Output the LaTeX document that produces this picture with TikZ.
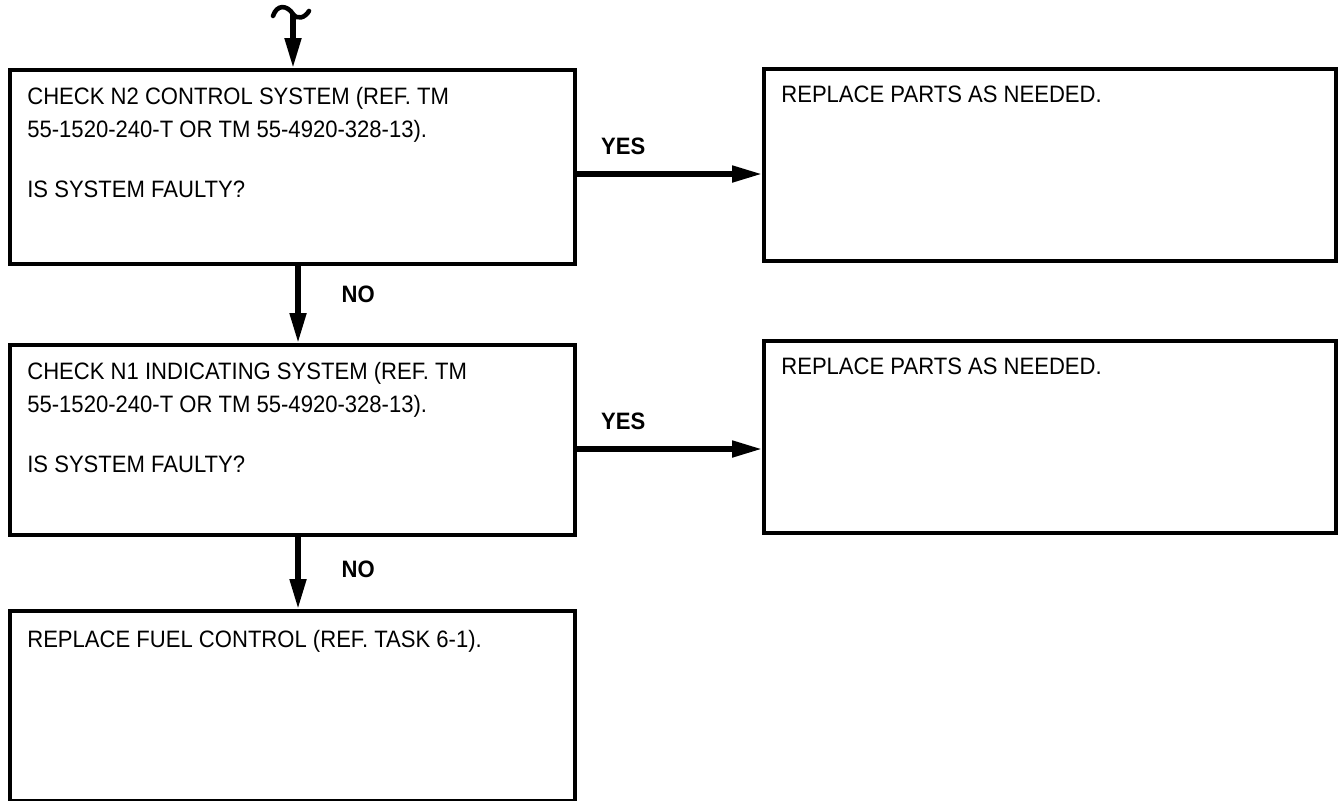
\documentclass[tikz,border=0pt]{standalone}
\usepackage{fontspec}
\setmainfont[FakeStretch=0.93]{Liberation Sans}
\usetikzlibrary{arrows.meta,calc}

\begin{document}
\begin{tikzpicture}[x=1cm,y=1cm,>={Triangle[length=17pt,width=9pt]},
                    font=\fontsize{13.5}{18.7}\selectfont,
                    box/.style={draw,line width=2.3pt,anchor=north west,inner sep=0pt,
                                minimum width=#1,minimum height=3.82cm},
                    txt/.style={anchor=north west,align=left,inner sep=0pt},
                    flow/.style={->,line width=3pt},
                    ans/.style={font=\fontsize{13.5}{18.7}\selectfont\bfseries,inner sep=0pt}]
  \useasboundingbox (0,0) rectangle (26.86,16.02);
  % boxes
  \node[box=11.3cm,minimum height=3.88cm] (b1) at (0.16,14.66) {};
  \node[box=11.44cm,minimum height=3.84cm] (b2) at (15.24,14.68) {};
  \node[box=11.3cm,minimum height=3.8cm] (b3) at (0.16,9.16) {};
  \node[box=11.44cm,minimum height=3.84cm] (b4) at (15.24,9.24) {};
  \node[box=11.3cm,minimum height=3.8cm] (b5) at (0.16,3.84) {};
  % texts
  \node[txt] (t1) at ($(b1.north west)+(0.38,-0.38)$) {CHECK N2 CONTROL SYSTEM (REF. TM\\ 55-1520-240-T OR TM 55-4920-328-13).\\[15.3pt] IS SYSTEM FAULTY?};
  \node[txt] (t2) at ($(b2.north west)+(0.38,-0.38)$) {REPLACE PARTS AS NEEDED.};
  \node[txt] (t3) at ($(b3.north west)+(0.38,-0.38)$) {CHECK N1 INDICATING SYSTEM (REF. TM\\ 55-1520-240-T OR TM 55-4920-328-13).\\[15.3pt] IS SYSTEM FAULTY?};
  \node[txt] (t4) at ($(b4.north west)+(0.38,-0.38)$) {REPLACE PARTS AS NEEDED.};
  \node[txt] (t5) at ($(b5.north west)+(0.38,-0.42)$) {REPLACE FUEL CONTROL (REF. TASK 6-1).};
  % entry from previous page
  \coordinate (entry) at (5.86,15.74);
  \draw[line width=2.6pt,line cap=round] (5.46,15.7) .. controls (5.54,15.94) and (5.74,15.92) .. (entry)
        .. controls (5.94,15.62) and (6.1,15.66) .. (6.18,15.8);
  \draw[flow] (entry) -- (entry |- b1.north);
  % yes / no
  \draw[flow] ([yshift=-0.14cm]b1.east) -- node[ans,above=0.33cm,pos=0.25] (y1) {YES} ([yshift=-0.14cm]b1.east -| b2.west);
  \draw[flow] ([yshift=-0.18cm]b3.east) -- node[ans,above=0.33cm,pos=0.25] (y2) {YES} ([yshift=-0.18cm]b3.east -| b4.west);
  \draw[flow] ([xshift=0.11cm]b1.south) -- node[ans,right=0.82cm,pos=0.37] (n1) {NO} ([xshift=0.11cm]b3.north);
  \draw[flow] ([xshift=0.11cm]b3.south) -- node[ans,right=0.82cm,pos=0.45] (n2) {NO} ([xshift=0.11cm]b5.north);
\end{tikzpicture}
\end{document}
